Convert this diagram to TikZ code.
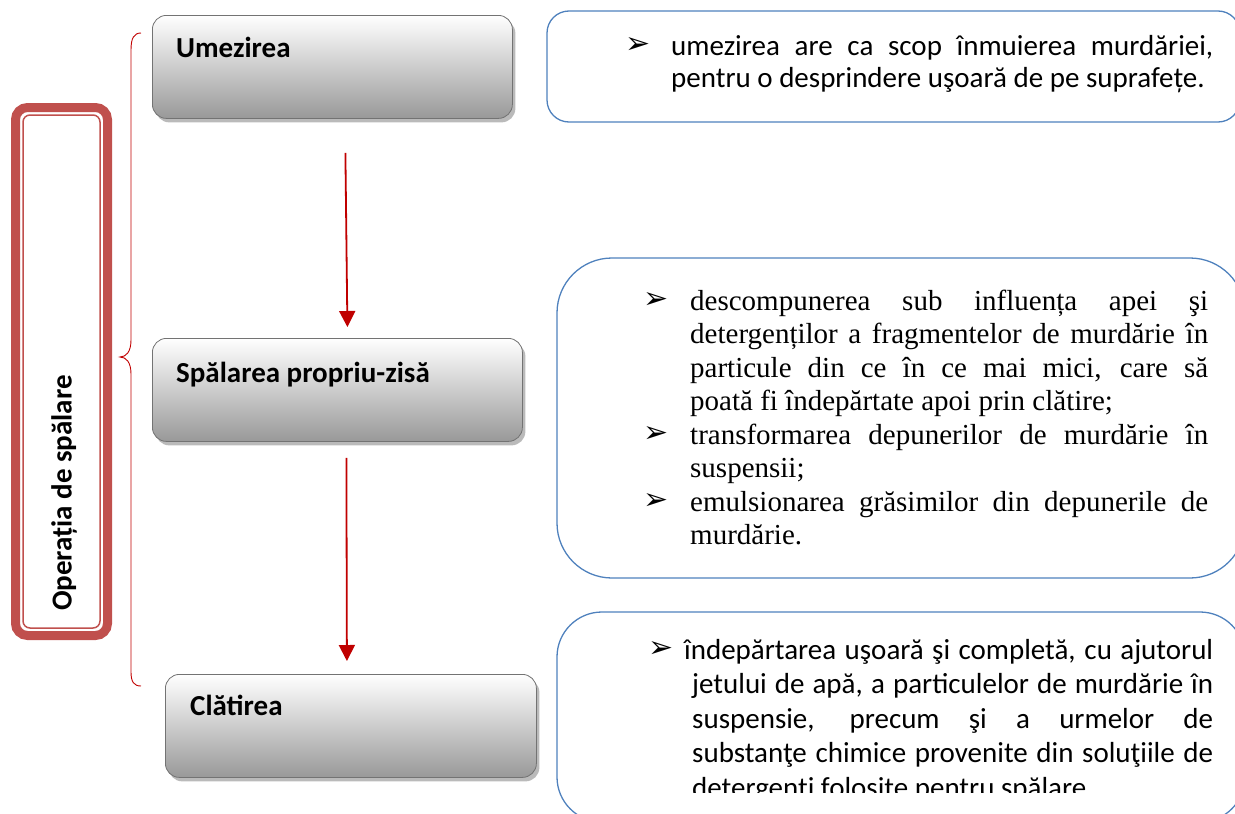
\documentclass[tikz,border=0pt]{standalone}
\usepackage{fontspec}
\setmainfont{Carlito}
\newfontfamily\timesface{Liberation Serif}
\newfontfamily\dingface{DejaVu Sans}
\usetikzlibrary{arrows.meta, shadows}

\definecolor{oprred}{RGB}{192,80,77}
\definecolor{flowred}{RGB}{192,0,0}
\definecolor{noteblue}{RGB}{79,129,189}

\newcommand{\arrbul}{\raisebox{2pt}{\dingface\fontsize{30}{30}\selectfont ➢}}
\newcommand{\loosepar}{\tolerance=10000\hyphenpenalty=10000\exhyphenpenalty=10000}

\begin{document}
\begin{tikzpicture}[x=1pt, y=-1pt,
    stage/.style={draw=black!55, line width=0.8pt, rounded corners=14pt,
        top color=white, middle color=black!10, bottom color=black!40,
        drop shadow={shadow xshift=3pt, shadow yshift=-4pt, fill=black!45, opacity=0.6},
        minimum height=103pt, inner sep=0pt, anchor=north west},
    stagetext/.style={anchor=base west, inner sep=0pt, font=\bfseries\fontsize{29}{32}\selectfont},
    note/.style={draw=noteblue, line width=1.3pt, inner sep=0pt},
    notetext/.style={anchor=base west, inner sep=0pt, align=justify},
    flow/.style={draw=flowred, line width=1.8pt, -{Triangle[width=16pt, length=16pt]}}]

    \useasboundingbox (0,0) rectangle (1235,814);
    \clip (0,0) rectangle (1235,814);

    % --- 1. cadrul vertical din stanga ---
    \node[draw=oprred, line width=9pt, rounded corners=12pt,
          minimum width=92pt, minimum height=528pt] (op) at (61.5,371.5) {};
    \draw[oprred, line width=1.5pt, rounded corners=7pt]
        ([shift={(12pt,12pt)}]op.south west) rectangle ([shift={(-12pt,-12pt)}]op.north east);
    \node[rotate=90, font=\bfseries\fontsize{29}{32}\selectfont] (optxt) at (64,493) {Operația de spălare};

    % acolada
    \draw[flowred, line width=0.9pt] (141,33) .. controls (134,33) and (131,38) .. (131,50)
        -- (131,340) .. controls (131,352) and (126,357) .. (120,357)
        .. controls (126,357) and (131,362) .. (131,374)
        -- (131,672) .. controls (131,682) and (134,686) .. (141,686);

    % --- 2. etapele (casete gri) ---
    \node[stage, minimum width=360pt] (ume) at (152,15) {};
    \node[stagetext] (umetxt) at ([xshift=24pt, yshift=-42pt]ume.north west) {Umezirea};

    \node[stage, minimum width=370pt] (spa) at (152,338) {};
    \node[stagetext] (spatxt) at ([xshift=24pt, yshift=-44pt]spa.north west) {Spălarea propriu-zisă};

    \node[stage, minimum width=371pt] (cla) at (165,674) {};
    \node[stagetext] (clatxt) at ([xshift=25pt, yshift=-41pt]cla.north west) {Clătirea};

    % sagetile rosii
    \draw[flow] ([xshift=13pt, yshift=-34pt]ume.south) -- ([xshift=10pt, yshift=11pt]spa.north);
    \draw[flow] ([xshift=9pt, yshift=-16pt]spa.south) -- ([xshift=-4pt, yshift=13pt]cla.north);

    % --- 3. explicatii (casete albastre) ---
    \node[note, rounded corners=22pt, minimum width=693pt, minimum height=111pt] (note1) at (893.5,66.5) {};
    \node[note, rounded corners=55pt, minimum width=688pt, minimum height=320pt] (note2) at (901,418) {};
    \node[note, rounded corners=45pt, minimum width=688pt, minimum height=210pt] (note3) at (901,717) {};

    \node[notetext, text width=588pt, font=\fontsize{29}{32}\selectfont\loosepar] (note1txt) at (625,55) {%
        \hangindent=46pt \hangafter=1 \makebox[46pt][l]{\arrbul}umezirea are ca scop înmuierea murdăriei,\linebreak
        pentru o desprindere uşoară de pe suprafețe.\par};

    \node[notetext, text width=565pt, font=\timesface\fontsize{29}{33.5}\selectfont\loosepar] (note2txt) at (643,310) {%
        \hangindent=47pt \hangafter=1 \makebox[47pt][l]{\arrbul}descompunerea sub influența apei şi\linebreak
        detergenților a fragmentelor de murdărie în\linebreak
        particule din ce în ce mai mici, care să\linebreak
        poată fi îndepărtate apoi prin clătire;\par
        \hangindent=47pt \hangafter=1 \makebox[47pt][l]{\arrbul}transformarea depunerilor de murdărie în\linebreak
        suspensii;\par
        \hangindent=47pt \hangafter=1 \makebox[47pt][l]{\arrbul}emulsionarea grăsimilor din depunerile de\linebreak
        murdărie.\par};

    \begin{scope}
        \clip (557,612) rectangle (1245,792);
        \node[notetext, text width=565pt, font=\fontsize{29}{34.5}\selectfont\loosepar] (note3txt) at (648,659) {%
            \hangindent=44pt \hangafter=1 \makebox[36pt][l]{\arrbul}îndepărtarea uşoară şi completă, cu ajutorul\linebreak
            jetului de apă, a particulelor de murdărie în\linebreak
            suspensie, precum şi a urmelor de\linebreak
            substanţe chimice provenite din soluţiile de\linebreak
            detergenţi folosite pentru spălare.\par};
    \end{scope}

\end{tikzpicture}
\end{document}
